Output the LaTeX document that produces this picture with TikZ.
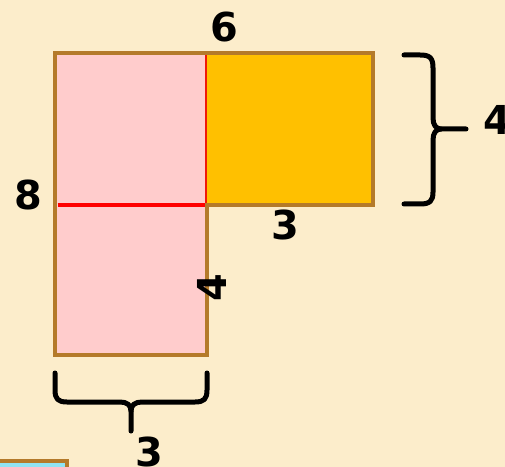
\documentclass[tikz,border=0pt]{standalone}
\usepackage{fontspec}
\setmainfont{DejaVu Sans}
\definecolor{bg}{HTML}{FCEDCB}
\definecolor{pinkf}{HTML}{FFCCCC}
\definecolor{orangef}{HTML}{FFC000}
\definecolor{brownb}{HTML}{B47A2A}
\definecolor{bluef}{HTML}{8FE3F3}
\tikzset{
  lbl/.style={inner sep=0pt, font=\bfseries\fontsize{40}{40}\selectfont, text=black},
  border/.style={draw=brownb, line width=4.5bp},
  bracestroke/.style={draw=black, line width=5bp, line cap=round, line join=round},
}
\begin{document}
\begin{tikzpicture}[x=1bp,y=-1bp]
\fill[bg] (0,0) rectangle (505,467);
\useasboundingbox (0,0) rectangle (505,467);
% fills
\fill[pinkf] (55,53) rectangle (207,355);
\fill[orangef] (207,53) rectangle (373,205);
% thin divider
\draw[red!80!brownb, line width=1.5bp] (206,53) -- (206,205);
% outer border
\draw[border, line join=miter] (207,205) -- (207,355) -- (55,355) -- (55,53) -- (373,53) -- (373,205) -- (205,205);
% red line
\draw[red, line width=4.5bp] (57.5,205) -- (205,205);
% right brace
\draw[bracestroke] (404,55) -- (420,55) .. controls (430,55) and (433,58) .. (433,68)
  -- (433,118) .. controls (433,125) and (436,129) .. (441,129) -- (466,129);
\draw[bracestroke] (441,129) .. controls (436,129) and (433,133) .. (433,140)
  -- (433,192) .. controls (433,201) and (430,204) .. (420,204) -- (404,204);
% bottom brace
\draw[bracestroke] (55,373) -- (55,390) .. controls (55,399) and (58,402) .. (67,402)
  -- (120,402) .. controls (127,402) and (131,405) .. (131,411) -- (131,431);
\draw[bracestroke] (131,411) .. controls (131,405) and (135,402) .. (142,402)
  -- (195,402) .. controls (204,402) and (207,399) .. (207,390) -- (207,373);
% bottom-left box
\draw[border, fill=bluef] (-5,461) rectangle (67,485);
% labels
\node[lbl] (six) at (224,27) {6};
\node[lbl] (eight) at (28,195) {8};
\node[lbl] (threeA) at (285,225) {3};
\node[lbl, rotate=90] (fourA) at (212,288) {4};
\node[lbl] (fourB) at (497,120) {4};
\node[lbl] (threeB) at (149,452) {3};
\end{tikzpicture}
\end{document}
